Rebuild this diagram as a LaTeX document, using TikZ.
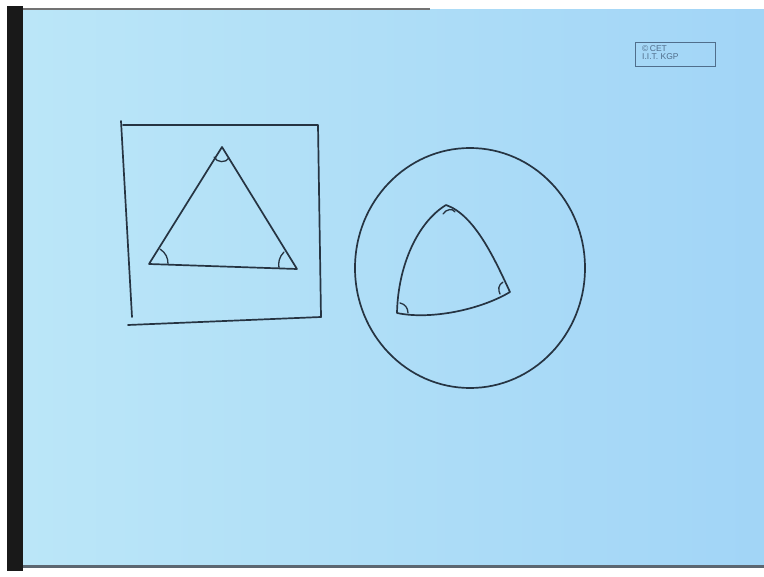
\documentclass[tikz,border=0pt]{standalone}
\usepackage{fontspec}
\setsansfont{Liberation Sans}
\begin{document}
\begin{tikzpicture}[x=1pt,y=-1pt,
  pen/.style={draw=ink,line width=1.7pt,line cap=round,line join=round},
  thinpen/.style={draw=ink,line width=1.3pt,line cap=round},
  logo/.style={font=\sffamily\fontsize{8.5}{8}\selectfont,text=logoc,align=left,inner sep=0pt}]
\definecolor{ink}{RGB}{38,52,66}
\definecolor{board}{RGB}{170,224,246}
\definecolor{logoc}{RGB}{80,110,140}
\useasboundingbox (0,0) rectangle (764,577);
% background
\fill[white] (0,0) rectangle (764,577);
\fill[black!90] (7,6) rectangle (23,571);
\fill[left color=board!80!white, right color=board!95!blue] (23,10) rectangle (764,567);
\fill[black!55] (23,8) rectangle (430,10);
\fill[ink!75] (23,565) rectangle (764,568);
% logo
\draw[logoc,line width=0.8pt] (635,42) rectangle (715,66);
\node[logo,anchor=north west] (lg) at (642,45) {\textcopyright\,CET\\I.I.T. KGP};
% square frame
\coordinate (s1) at (121,121);
\coordinate (s2) at (132,317);
\coordinate (s3) at (123,125);
\coordinate (s4) at (318,125);
\coordinate (s5) at (321,317);
\coordinate (s6) at (128,325);
\draw[pen] (s1) -- (s2);
\draw[pen] (s3) -- (s4) -- (s5);
\draw[pen] (s6) -- (s5);
% triangle
\coordinate (A) at (222,147);
\coordinate (B) at (149,264);
\coordinate (C) at (297,269);
\draw[pen] (A) -- (B) -- (C) -- cycle;
\draw[thinpen] (214,157) .. controls (217,163) and (226,163) .. (229,158);
\draw[thinpen] (160,249) .. controls (166,253) and (168,258) .. (168,264);
\draw[thinpen] (284,252) .. controls (279,257) and (278,263) .. (279,268);
% outer circle
\coordinate (O) at (470,268);
\draw[pen] (O) ellipse [x radius=115, y radius=120];
% inner curved triangle
\coordinate (P) at (446,205);
\coordinate (Q) at (397,313);
\coordinate (R) at (510,292);
\draw[pen] (P) .. controls (418,222) and (398,265) .. (Q)
           .. controls (430,320) and (480,310) .. (R)
           .. controls (495,260) and (475,215) .. (P);
\draw[thinpen] (443,214) .. controls (446,209) and (453,208) .. (455,212);
\draw[thinpen] (400,303) .. controls (405,304) and (408,308) .. (408,313);
\draw[thinpen] (503,282) .. controls (498,285) and (498,290) .. (500,294);
\end{tikzpicture}
\end{document}
